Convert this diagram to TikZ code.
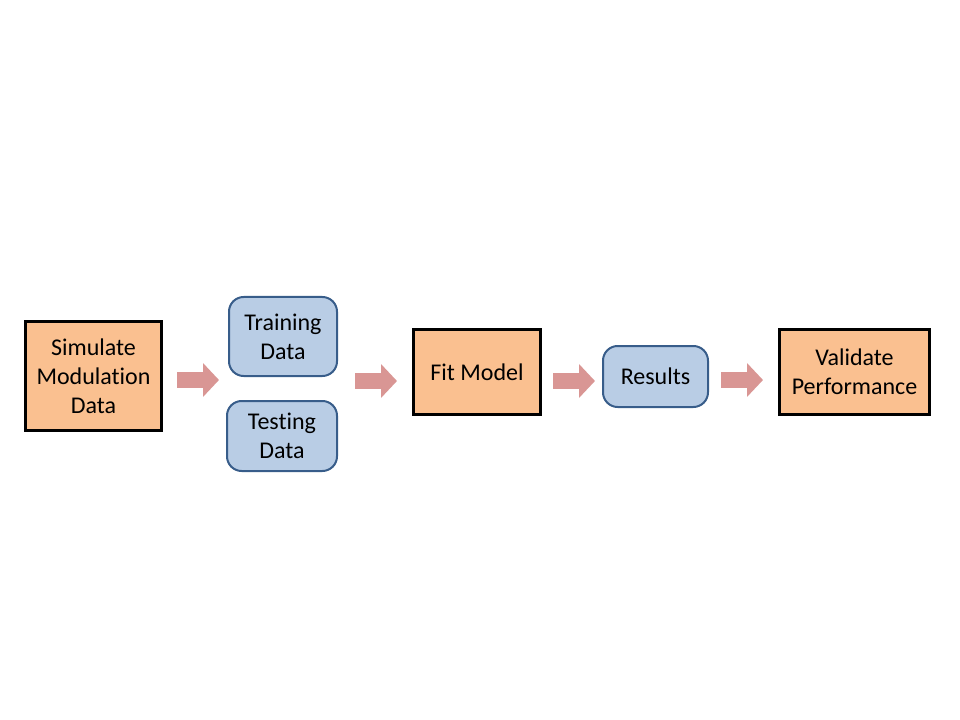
\documentclass[tikz,border=0pt]{standalone}
\usepackage{fontspec}
\setmainfont{Carlito}[Ligatures=NoCommon]
\usetikzlibrary{arrows.meta}
\definecolor{stepfill}{RGB}{250,192,144}
\definecolor{datafill}{RGB}{185,205,229}
\definecolor{dataline}{RGB}{56,93,138}
\definecolor{flowred}{RGB}{217,150,148}
\tikzset{
  every node/.style={font=\fontsize{18}{21.6}\selectfont, align=center, inner sep=0pt},
  stepbox/.style={draw=black, fill=stepfill, line width=2.25pt},
  databox/.style={draw=dataline, fill=datafill, line width=1.5pt, rounded corners=11pt},
  flow/.style={draw=flowred, line width=12pt, -{Triangle[length=12pt,width=24.75pt]}},
}
\begin{document}
\begin{tikzpicture}[x=0.75pt,y=0.75pt,yscale=-1,xscale=1]
\useasboundingbox (0,0) rectangle (960,720);

%Shape: Rectangle [id:sim] 
\node[stepbox, minimum width=102pt, minimum height=81.75pt] (sim) at (93.5,376) {Simulate\\Modulation\\Data};
%Shape: Rounded Rect [id:train] 
\node[databox, minimum width=81pt, minimum height=59.25pt] (train) at (283,336.5) {Training\\Data};
%Shape: Rounded Rect [id:test] 
\node[databox, minimum width=82.5pt, minimum height=52.5pt] (test) at (282,436) {Testing\\Data};
%Shape: Rectangle [id:fit] 
\node[stepbox, minimum width=95.25pt, minimum height=63.75pt] (fit) at (477,372) {Fit Model};
%Shape: Rounded Rect [id:res] 
\node[databox, minimum width=78.75pt, minimum height=45.75pt] (res) at (655.5,376.5) {Results};
%Shape: Rectangle [id:val] 
\node[stepbox, minimum width=112.5pt, minimum height=63.75pt] (val) at (854.5,372) {Validate\\Performance};

%Right Arrows 
\draw[flow] (sim.east) ++(14,4) -- ++(42,0) ;
\draw[flow] (fit.west) ++(-57,9) -- ++(42,0) ;
\draw[flow] (fit.east) ++(11,9) -- ++(42,0) ;
\draw[flow] (res.east) ++(12,3.5) -- ++(42,0) ;

\end{tikzpicture}
\end{document}
